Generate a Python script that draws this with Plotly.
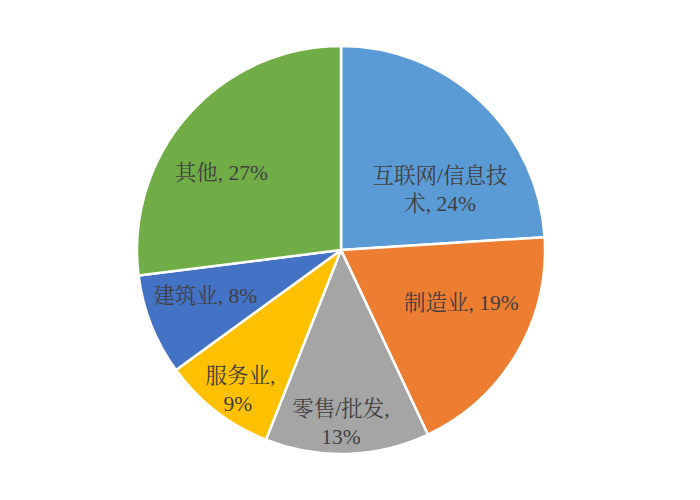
import plotly.graph_objects as go

categories = ["互联网/信息技术", "制造业", "零售/批发", "服务业", "建筑业", "其他"]
values = [24, 19, 13, 9, 8, 27]
colors = ["#5B9BD5", "#ED7D31", "#A5A5A5", "#FFC000", "#4472C4", "#70AD47"]

NB = "\u00a0"
# label text with line wrapping; blank/space padding nudges each label like the original layout
texts = [
    f"{NB}<br>{NB}<br>{NB*6}互联网/信息技<br>{NB*6}术, {values[0]}%",
    f"{NB*3}制造业, {values[1]}%<br>{NB}",
    f"{NB}<br>零售/批发,<br>{values[2]}%",
    f"{NB}<br>{NB}服务业,{NB*2}<br>{values[3]}%{NB*2}",
    f"{NB*6}建筑业, {values[4]}%<br>{NB}",
    f"其他, {values[5]}%{NB*12}",
]

fig = go.Figure(go.Pie(
    labels=categories,
    values=values,
    text=texts,
    texttemplate="%{text}",
    textposition="inside",
    insidetextorientation="horizontal",
    sort=False,
    direction="clockwise",
    rotation=0,
    marker=dict(colors=colors, line=dict(color="white", width=2.5)),
    textfont=dict(family="Liberation Serif, Noto Serif CJK SC, Noto Sans CJK SC", size=21.5, color="#404040"),
    showlegend=False,
    hoverinfo="label+percent",
))

fig.update_layout(
    width=700, height=500,
    margin=dict(l=0, r=34, t=38, b=54),
    paper_bgcolor="white",
    plot_bgcolor="white",
    uniformtext=dict(minsize=21.5, mode="show"),
)

fig.write_html("out.html")
